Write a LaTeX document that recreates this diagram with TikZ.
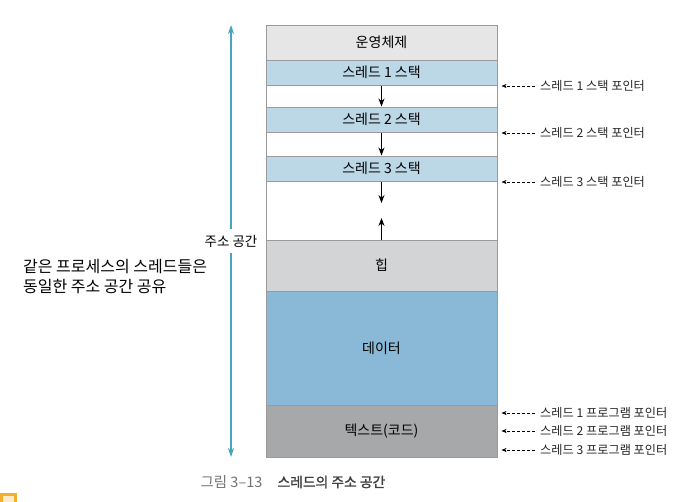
\documentclass[tikz,border=0pt]{standalone}
\usepackage{fontspec}
\setmainfont{Noto Sans CJK KR}
\newfontfamily\capbold[FakeBold=1.5]{Noto Sans CJK KR}
\usetikzlibrary{arrows.meta}

\definecolor{osgray}{HTML}{E6E6E7}
\definecolor{stackblue}{HTML}{BCD7E6}
\definecolor{heapgray}{HTML}{D3D4D5}
\definecolor{datablue}{HTML}{89B9D6}
\definecolor{textgray}{HTML}{A7A8AA}
\definecolor{edgegray}{HTML}{9A9A9C}
\definecolor{addrcyan}{HTML}{45A5BD}
\definecolor{iconorange}{HTML}{F2AE2E}

\tikzset{
  band/.style={draw=edgegray, line width=1pt, minimum width=231pt, inner sep=0pt, font=\fontsize{14}{16}\selectfont},
  growarrow/.style={line width=0.8pt, -{Stealth[length=8pt,width=6pt]}},
  addrline/.style={addrcyan, line width=1.1pt, -{Stealth[length=9pt,width=6pt]}},
  ptrlabel/.style={anchor=west, inner sep=3pt, font=\fontsize{12.2}{14}\selectfont, text=black!85},
  ptrarrow/.style={line width=0.6pt, dash pattern=on 3pt off 2pt, -{Stealth[length=5pt,width=4pt]}, shorten <=2pt, shorten >=4pt}
}

\begin{document}
\begin{tikzpicture}[x=1pt, y=-1pt]
    \useasboundingbox (0,0) rectangle (691,501);

    % memory layout
    \node[band, fill=osgray, minimum height=35pt] (os) at (381.5,42.5) {운영체제};
    \node[band, fill=stackblue, minimum height=25pt] (st1) at (381.5,72.5) {스레드 1 스택};
    \node[band, fill=white, minimum height=22pt] (gap1) at (381.5,96) {};
    \node[band, fill=stackblue, minimum height=25pt] (st2) at (381.5,119.5) {스레드 2 스택};
    \node[band, fill=white, minimum height=24pt] (gap2) at (381.5,144) {};
    \node[band, fill=stackblue, minimum height=25pt] (st3) at (381.5,168.5) {스레드 3 스택};
    \node[band, fill=white, minimum height=59pt] (gap3) at (381.5,210.5) {};
    \node[band, fill=heapgray, minimum height=51pt] (heap) at (381.5,265.5) {힙};
    \node[band, fill=datablue, minimum height=114pt] (data) at (381.5,348) {데이터};
    \node[band, fill=textgray, minimum height=52pt] (txt) at (381.5,431) {텍스트(코드)};

    \coordinate (downtip) at (381.5,203);
    \coordinate (uptip) at (381.5,218);
    \draw[growarrow] (st1.south) -- (st2.north);
    \draw[growarrow] (st2.south) -- (st3.north);
    \draw[growarrow] (st3.south) -- (downtip);
    \draw[growarrow] (heap.north) -- (uptip);

    % address space
    \node[minimum height=24pt, inner sep=0pt, font=\fontsize{13.5}{15}\selectfont] (addr) at (231,241) {주소 공간};
    \coordinate (addrtop) at (231,25);
    \coordinate (addrbot) at (231,457);
    \draw[addrline] (addr.north) -- (addrtop);
    \draw[addrline] (addr.south) -- (addrbot);

    \node[anchor=west, align=left, inner sep=0pt, font=\fontsize{16}{20}\selectfont] (share) at (23,277) {같은 프로세스의 스레드들은\\동일한 주소 공간 공유};

    % stack pointers
    \node[ptrlabel] (sp1) at (537,86) {스레드 1 스택 포인터};
    \node[ptrlabel] (sp2) at (537,133) {스레드 2 스택 포인터};
    \node[ptrlabel] (sp3) at (537,182) {스레드 3 스택 포인터};
    \draw[ptrarrow] (sp1.west) -- (sp1.west -| st1.east);
    \draw[ptrarrow] (sp2.west) -- (sp2.west -| st2.east);
    \draw[ptrarrow] (sp3.west) -- (sp3.west -| st3.east);

    % program counters
    \node[ptrlabel] (pc1) at (537,413) {스레드 1 프로그램 포인터};
    \node[ptrlabel] (pc2) at (537,431) {스레드 2 프로그램 포인터};
    \node[ptrlabel] (pc3) at (537,450) {스레드 3 프로그램 포인터};
    \draw[ptrarrow] (pc1.west) -- (pc1.west -| txt.east);
    \draw[ptrarrow] (pc2.west) -- (pc2.west -| txt.east);
    \draw[ptrarrow] (pc3.west) -- (pc3.west -| txt.east);

    % caption
    \node[anchor=west, text=black!55, font=\fontsize{14.5}{16}\selectfont] (capnum) at (197,482) {그림 3–13};
    \node[anchor=west, text=black!75, font=\capbold\fontsize{13.8}{16}\selectfont] (captitle) at (274,482) {스레드의 주소 공간};

    \fill[iconorange] (0,493) rectangle (17,505);
    \fill[iconorange!25] (3,496) rectangle (14,505);
\end{tikzpicture}
\end{document}
